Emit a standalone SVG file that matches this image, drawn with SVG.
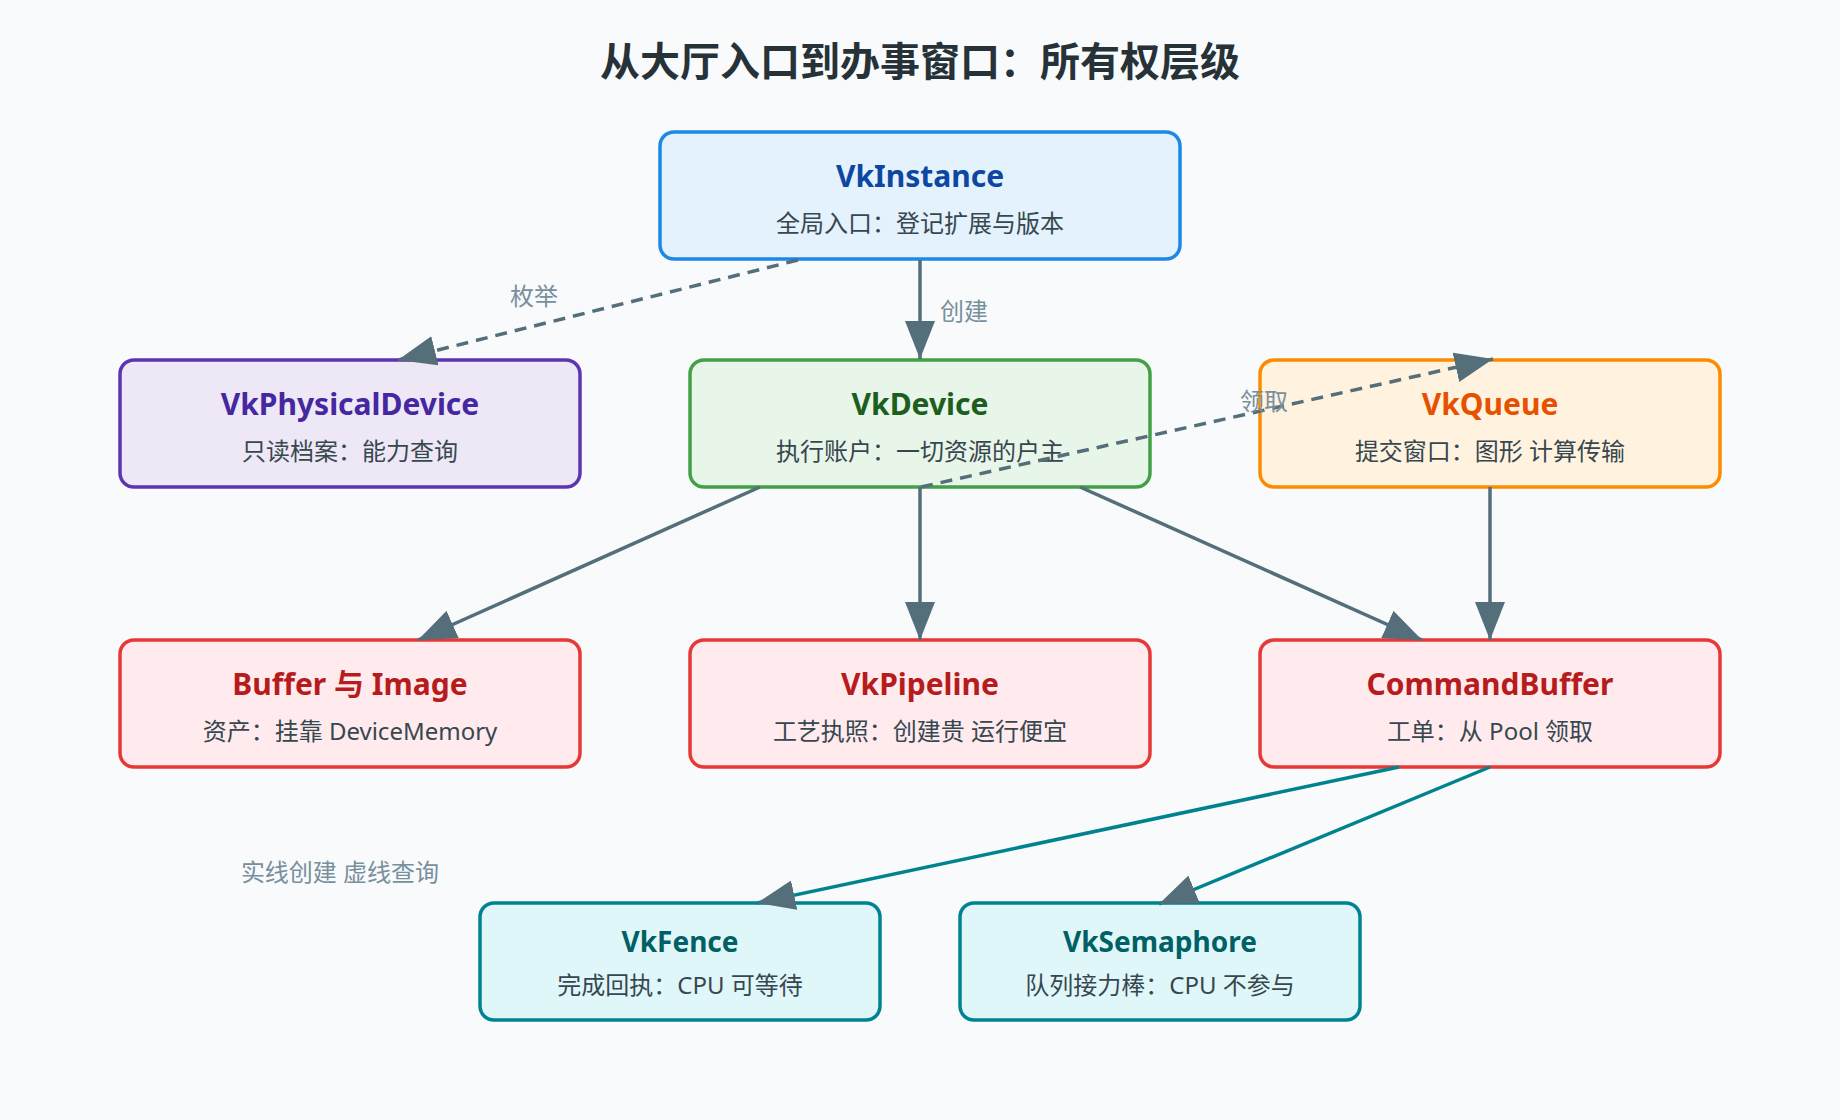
<svg xmlns="http://www.w3.org/2000/svg" width="1840" height="1120" viewBox="0 0 1840 1120">
  <defs>
    <marker id="arr" markerUnits="userSpaceOnUse" markerWidth="38" markerHeight="30" refX="38" refY="15" orient="auto">
      <path d="M0,0 L38,15 L0,30 Z" fill="#546e7a"/>
    </marker>
    <style>
      text { font-family: "Noto Sans", "Noto Sans CJK SC", sans-serif; text-anchor: middle; }
      .title { font-size: 40px; font-weight: 700; fill: #263238; }
      .box { stroke-width: 3.5; }
      .nt { font-size: 30px; font-weight: 700; }
      .nt4 { font-size: 28px; font-weight: 700; }
      .ns { font-size: 24px; fill: #37474f; }
      .lbl { font-size: 24px; fill: #78909c; }
      .e { fill: none; stroke: #546e7a; stroke-width: 3.5; marker-end: url(#arr); }
      .dash { stroke-dasharray: 12 8; }
      .teal { stroke: #00838f; }
      .blue rect { fill: #e3f2fd; stroke: #1e88e5; } .blue .nt { fill: #0d47a1; }
      .purple rect { fill: #ede7f6; stroke: #5e35b1; } .purple .nt { fill: #4527a0; }
      .green rect { fill: #e8f5e9; stroke: #43a047; } .green .nt { fill: #1b5e20; }
      .orange rect { fill: #fff3e0; stroke: #fb8c00; } .orange .nt { fill: #e65100; }
      .red rect { fill: #ffebee; stroke: #e53935; } .red .nt { fill: #b71c1c; }
      .cyan rect { fill: #e0f7fa; stroke: #00838f; } .cyan .nt4 { fill: #006064; }
    </style>
  </defs>
  <rect width="1840" height="1120" fill="#f8fafc"/>
  <text class="title" x="920" y="76">从大厅入口到办事窗口：所有权层级</text>

  <g id="n-instance" class="blue">
    <rect class="box" x="660" y="132" width="520" height="127" rx="14"/>
    <text class="nt" x="920" y="187">VkInstance</text>
    <text class="ns" x="920" y="232">全局入口：登记扩展与版本</text>
  </g>
  <g id="n-physical" class="purple">
    <rect class="box" x="120" y="360" width="460" height="127" rx="14"/>
    <text class="nt" x="350" y="415">VkPhysicalDevice</text>
    <text class="ns" x="350" y="460">只读档案：能力查询</text>
  </g>
  <g id="n-device" class="green">
    <rect class="box" x="690" y="360" width="460" height="127" rx="14"/>
    <text class="nt" x="920" y="415">VkDevice</text>
    <text class="ns" x="920" y="460">执行账户：一切资源的户主</text>
  </g>
  <g id="n-queue" class="orange">
    <rect class="box" x="1260" y="360" width="460" height="127" rx="14"/>
    <text class="nt" x="1490" y="415">VkQueue</text>
    <text class="ns" x="1490" y="460">提交窗口：图形 计算传输</text>
  </g>
  <g id="n-buffer" class="red">
    <rect class="box" x="120" y="640" width="460" height="127" rx="14"/>
    <text class="nt" x="350" y="695">Buffer 与 Image</text>
    <text class="ns" x="350" y="740">资产：挂靠 DeviceMemory</text>
  </g>
  <g id="n-pipeline" class="red">
    <rect class="box" x="690" y="640" width="460" height="127" rx="14"/>
    <text class="nt" x="920" y="695">VkPipeline</text>
    <text class="ns" x="920" y="740">工艺执照：创建贵 运行便宜</text>
  </g>
  <g id="n-cmdbuf" class="red">
    <rect class="box" x="1260" y="640" width="460" height="127" rx="14"/>
    <text class="nt" x="1490" y="695">CommandBuffer</text>
    <text class="ns" x="1490" y="740">工单：从 Pool 领取</text>
  </g>
  <g id="n-fence" class="cyan">
    <rect class="box" x="480" y="903" width="400" height="117" rx="14"/>
    <text class="nt4" x="680" y="952">VkFence</text>
    <text class="ns" x="680" y="994">完成回执：CPU 可等待</text>
  </g>
  <g id="n-semaphore" class="cyan">
    <rect class="box" x="960" y="903" width="400" height="117" rx="14"/>
    <text class="nt4" x="1160" y="952">VkSemaphore</text>
    <text class="ns" x="1160" y="994">队列接力棒：CPU 不参与</text>
  </g>

  <g id="connectors">
    <line class="e dash" x1="798" y1="260" x2="398" y2="360"/>
    <line class="e" x1="920" y1="260" x2="920" y2="359"/>
    <line class="e dash" x1="921" y1="487" x2="1493" y2="359"/>
    <line class="e" x1="760" y1="487" x2="418" y2="640"/>
    <line class="e" x1="920" y1="487" x2="920" y2="640"/>
    <line class="e" x1="1080" y1="487" x2="1422" y2="640"/>
    <line class="e" x1="1490" y1="487" x2="1490" y2="640"/>
    <line class="e teal" x1="1399" y1="767" x2="757" y2="903"/>
    <line class="e teal" x1="1490" y1="767" x2="1159" y2="904"/>
    <text class="lbl" x="534" y="305">枚举</text>
    <text class="lbl" x="964" y="320">创建</text>
    <text class="lbl" x="1264" y="410">领取</text>
  </g>
  <text class="lbl" x="340" y="881">实线创建 虚线查询</text>
</svg>
